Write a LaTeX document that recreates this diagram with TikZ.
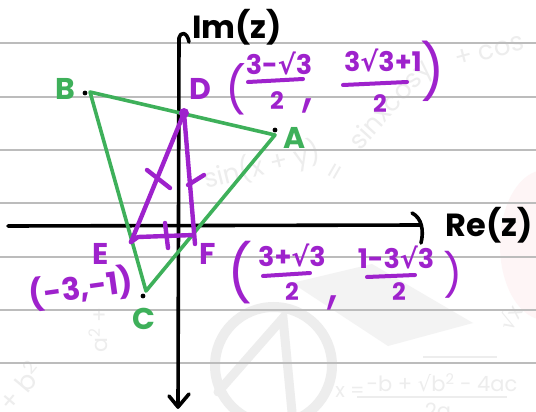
\documentclass[tikz,border=0pt]{standalone}
\usepackage{fontspec}
\setmainfont{Poppins}
\newfontfamily\symf{DejaVu Sans}
\newcommand{\rtsym}{{\symf √}}
\definecolor{pgreen}{RGB}{62,176,90}
\definecolor{ppurple}{RGB}{158,34,204}
\definecolor{rulec}{RGB}{188,188,188}
\definecolor{wmc}{RGB}{237,237,237}
\definecolor{wmcap}{RGB}{243,243,243}
\definecolor{wmpink}{RGB}{254,245,246}
\begin{document}
\begin{tikzpicture}[x=1pt,y=-1pt,
  every node/.style={inner sep=0pt, outer sep=0pt},
  rulel/.style={draw=rulec, line width=1.3pt},
  axisl/.style={draw=black, line width=3.6pt, line cap=round, line join=round},
  gline/.style={draw=pgreen, line width=3.6pt, line cap=round, line join=round},
  pline/.style={draw=ppurple, line width=4.4pt, line cap=round, line join=round},
  pbar/.style={draw=ppurple, line width=4pt, line cap=round},
  lab/.style={font=\bfseries\fontsize{30}{30}\selectfont},
  axl/.style={font=\bfseries\fontsize{32}{32}\selectfont, text=black},
  num/.style={font=\bfseries\fontsize{27}{27}\selectfont, text=ppurple},
  den/.style={font=\bfseries\fontsize{24}{24}\selectfont, text=ppurple},
  parl/.style={text=ppurple},
  wmt/.style={text=wmc, font=\fontsize{26}{26}\selectfont}]
\useasboundingbox (0,0) rectangle (536,412);
\fill[white] (0,0) rectangle (536,412);

% faint watermark
\fill[wmpink] (545,245) ellipse (45 and 75);
\draw[wmc, line width=10pt] (273.5,365.5) circle (58.5);
\draw[wmc, line width=9pt, line cap=round] (218,392) -- (283,318) -- (292,412);
\fill[wmcap] (292,283) -- (372,264) -- (473,323) -- (388,346) -- cycle;
\node[wmt, rotate=14] (w1) at (262,166) {sin(x + y)};
\node[wmt, rotate=60] (w2) at (337,173) {=};
\node[wmt, rotate=48] (w3) at (392,106) {sinxcosy};
\node[wmt, rotate=15, anchor=west] (w4) at (455,60) {+ cos};
\node[wmt, rotate=90, font=\fontsize{22}{22}\selectfont] (w5) at (98,330) {a\textsuperscript{2} +};
\node[wmt, rotate=50] (w6) at (20,386) {+ b\textsuperscript{2}};
\node[wmt, rotate=60, font=\fontsize{22}{22}\selectfont] (w7) at (510,318) {\rtsym x};
\node[wmt, font=\fontsize{20}{20}\selectfont] (w8) at (350,392) {x =};
\node[wmt, font=\fontsize{21}{21}\selectfont] (w9) at (442,383) {-b + \rtsym b\textsuperscript{2} - 4ac};
\draw[wmc, line width=1.6pt] (357,397) -- (507,397);
\draw[wmc, line width=1.6pt] (423,357) -- (497,357);
\node[wmt, font=\fontsize{21}{21}\selectfont] (w10) at (438,411) {2a};

% ruled lines
\foreach \yy in {43,97,150,203,257,310,363}
  \draw[rulel] (0,\yy) -- (536,\yy);

% axes
\coordinate (xl) at (8,226);
\coordinate (xr) at (420,225);
\coordinate (yt) at (179,38);
\coordinate (yb) at (178,407);
\draw[axisl] (xl) -- (xr);
\draw[axisl] (412,213) .. controls (422,218) and (424,231) .. (421,243);
\draw[axisl] (yt) -- (yb);
\draw[axisl] (yt) .. controls (180,32) and (187,31) .. (189,42);
\draw[axisl] (169,396) -- (yb) -- (189,394);
\node[axl] (im) at (237,27) {Im(z)};
\node[axl] (re) at (489,225) {Re(z)};

% green triangle
\coordinate (B) at (90,92);
\coordinate (A) at (275,135);
\coordinate (C) at (146,291);
\draw[gline] (B) -- (A) -- (C) -- cycle;
\fill[black] (85,93) circle (2.4);
\fill[black] (275,130) circle (2.4);
\fill[black] (143,296) circle (2.4);
\node[lab, text=pgreen] (lB) at (65,89) {B};
\node[lab, text=pgreen] (lA) at (295,138) {A};
\node[lab, text=pgreen] (lC) at (144,319) {C};

% purple triangle
\coordinate (D) at (184,113);
\coordinate (E) at (131,242);
\coordinate (F) at (194,235);
\coordinate (Fb) at (195,244);
\coordinate (Ek) at (138,237);
\draw[pline] (D) -- (E);
\draw[pline] (D) -- (Fb);
\draw[pline] (E) -- (Ek) -- (F);
\fill[ppurple] (D) circle (5);
\draw[pline] (147,170) -- (170,188);
\draw[pline] (188,185) -- (204,175);
\draw[pline] (165,223) -- (168,248);
\node[lab, text=ppurple] (lD) at (200,89) {D};
\node[lab, text=ppurple] (lE) at (101,254) {E};
\node[lab, text=ppurple] (lF) at (208,254) {F};

% coordinates of C
\node[parl, rotate=8, font=\bfseries\fontsize{31}{31}\selectfont] (cc) at (81,288) {(-3,-1)};

% coordinates of D
\node[parl, font=\fontsize{46}{46}\selectfont] (dp1) at (236,89) {(};
\node[num] (dn1) at (279,63) {3-\rtsym3};
\draw[pbar] (248,82) -- (303,79);
\node[den] (dd1) at (277,101) {2};
\node[parl, font=\fontsize{54}{54}\selectfont] (dc) at (308,106) {,};
\node[num] (dn2) at (383,60) {3\rtsym3+1};
\draw[pbar] (343,85) -- (407,82);
\node[den] (dd2) at (380,104) {2};
\node[parl, font=\fontsize{54}{54}\selectfont] (dp2) at (433,71) {)};

% coordinates of F
\node[parl, font=\fontsize{56}{56}\selectfont] (fp1) at (240,273) {(};
\node[num] (fn1) at (292,255) {3+\rtsym3};
\draw[pbar] (263,276) -- (310,273);
\node[den] (fd1) at (292,292) {2};
\node[parl, font=\fontsize{54}{54}\selectfont] (fc) at (333,303) {,};
\node[num] (fn2) at (396,257) {1-3\rtsym3};
\draw[pbar] (367,277) -- (415,275);
\node[den] (fd2) at (399,292) {2};
\node[parl, font=\fontsize{42}{42}\selectfont] (fp2) at (453,275) {)};
\end{tikzpicture}
\end{document}
